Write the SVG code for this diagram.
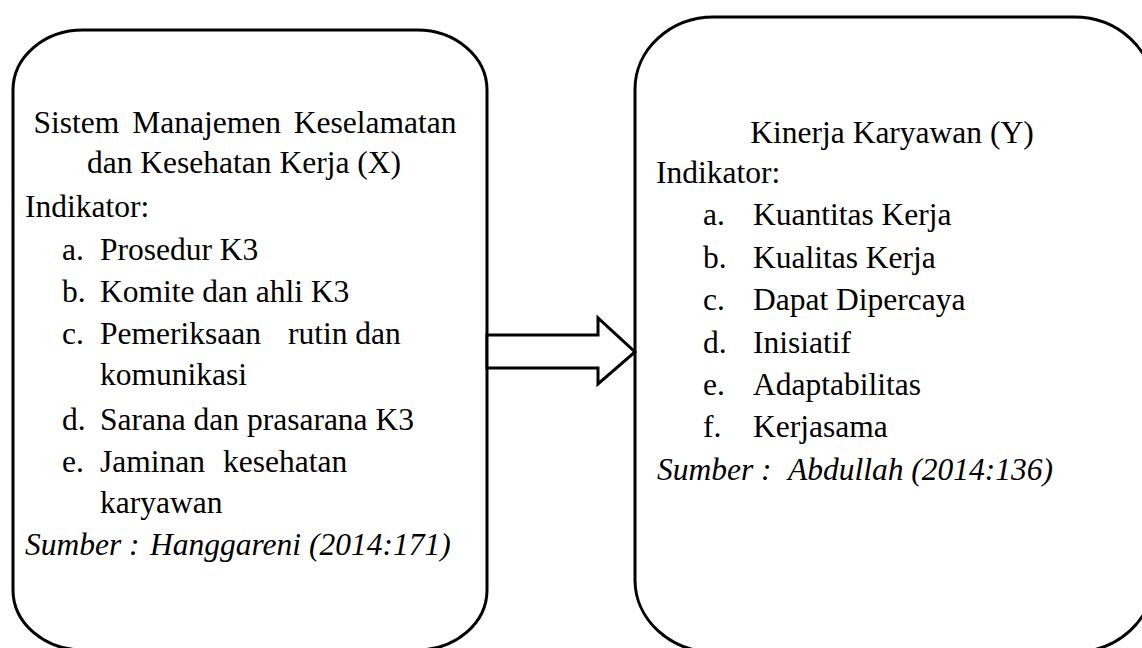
<svg xmlns="http://www.w3.org/2000/svg" width="1142" height="648" viewBox="0 0 1142 648">
<style>
.box{fill:#fff;stroke:#000;stroke-width:3}
.t{font-family:"Liberation Serif","Times New Roman",serif;font-size:31.5px;fill:#000}
.i{font-style:italic}
.arrow{fill:#fff;stroke:#000;stroke-width:3;stroke-linejoin:miter}
</style>
<rect x="0" y="0" width="1142" height="648" fill="#fff"/>
<g id="node-x">
<rect class="box" x="13" y="30" width="474" height="620" rx="70" ry="60"/>
<text class="t" x="245" y="133" text-anchor="middle" word-spacing="5">Sistem Manajemen Keselamatan</text>
<text class="t" x="244" y="173" text-anchor="middle">dan Kesehatan Kerja (X)</text>
<text class="t" x="25" y="217">Indikator:</text>
<text class="t" x="62" y="260">a.</text><text class="t" x="100" y="260">Prosedur K3</text>
<text class="t" x="62" y="302">b.</text><text class="t" x="100" y="302">Komite dan ahli K3</text>
<text class="t" x="62" y="344">c.</text><text class="t" x="100" y="344">Pemeriksaan</text><text class="t" x="288" y="344">rutin dan</text>
<text class="t" x="100" y="385">komunikasi</text>
<text class="t" x="62" y="430">d.</text><text class="t" x="100" y="430">Sarana dan prasarana K3</text>
<text class="t" x="62" y="472">e.</text><text class="t" x="100" y="472">Jaminan</text><text class="t" x="223" y="472">kesehatan</text>
<text class="t" x="100" y="513">karyawan</text>
<text class="t i" x="25" y="555">Sumber :</text><text class="t i" x="150" y="555">Hanggareni (2014:171)</text>
</g>
<g id="node-y">
<rect class="box" x="635" y="17" width="518" height="635" rx="79" ry="72"/>
<text class="t" x="892" y="143" text-anchor="middle">Kinerja Karyawan (Y)</text>
<text class="t" x="656" y="183">Indikator:</text>
<text class="t" x="703" y="225">a.</text><text class="t" x="753" y="225">Kuantitas Kerja</text>
<text class="t" x="703" y="268">b.</text><text class="t" x="753" y="268">Kualitas Kerja</text>
<text class="t" x="703" y="310">c.</text><text class="t" x="753" y="310">Dapat Dipercaya</text>
<text class="t" x="703" y="353">d.</text><text class="t" x="753" y="353">Inisiatif</text>
<text class="t" x="703" y="395">e.</text><text class="t" x="753" y="395">Adaptabilitas</text>
<text class="t" x="703" y="437">f.</text><text class="t" x="753" y="437">Kerjasama</text>
<text class="t i" x="657" y="480">Sumber :</text><text class="t i" x="788" y="480">Abdullah (2014:136)</text>
</g>
<g id="connectors">
<polygon class="arrow" points="487,335 598,335 598,318 635,352 598,384 598,368 487,368"/>
</g>
</svg>
